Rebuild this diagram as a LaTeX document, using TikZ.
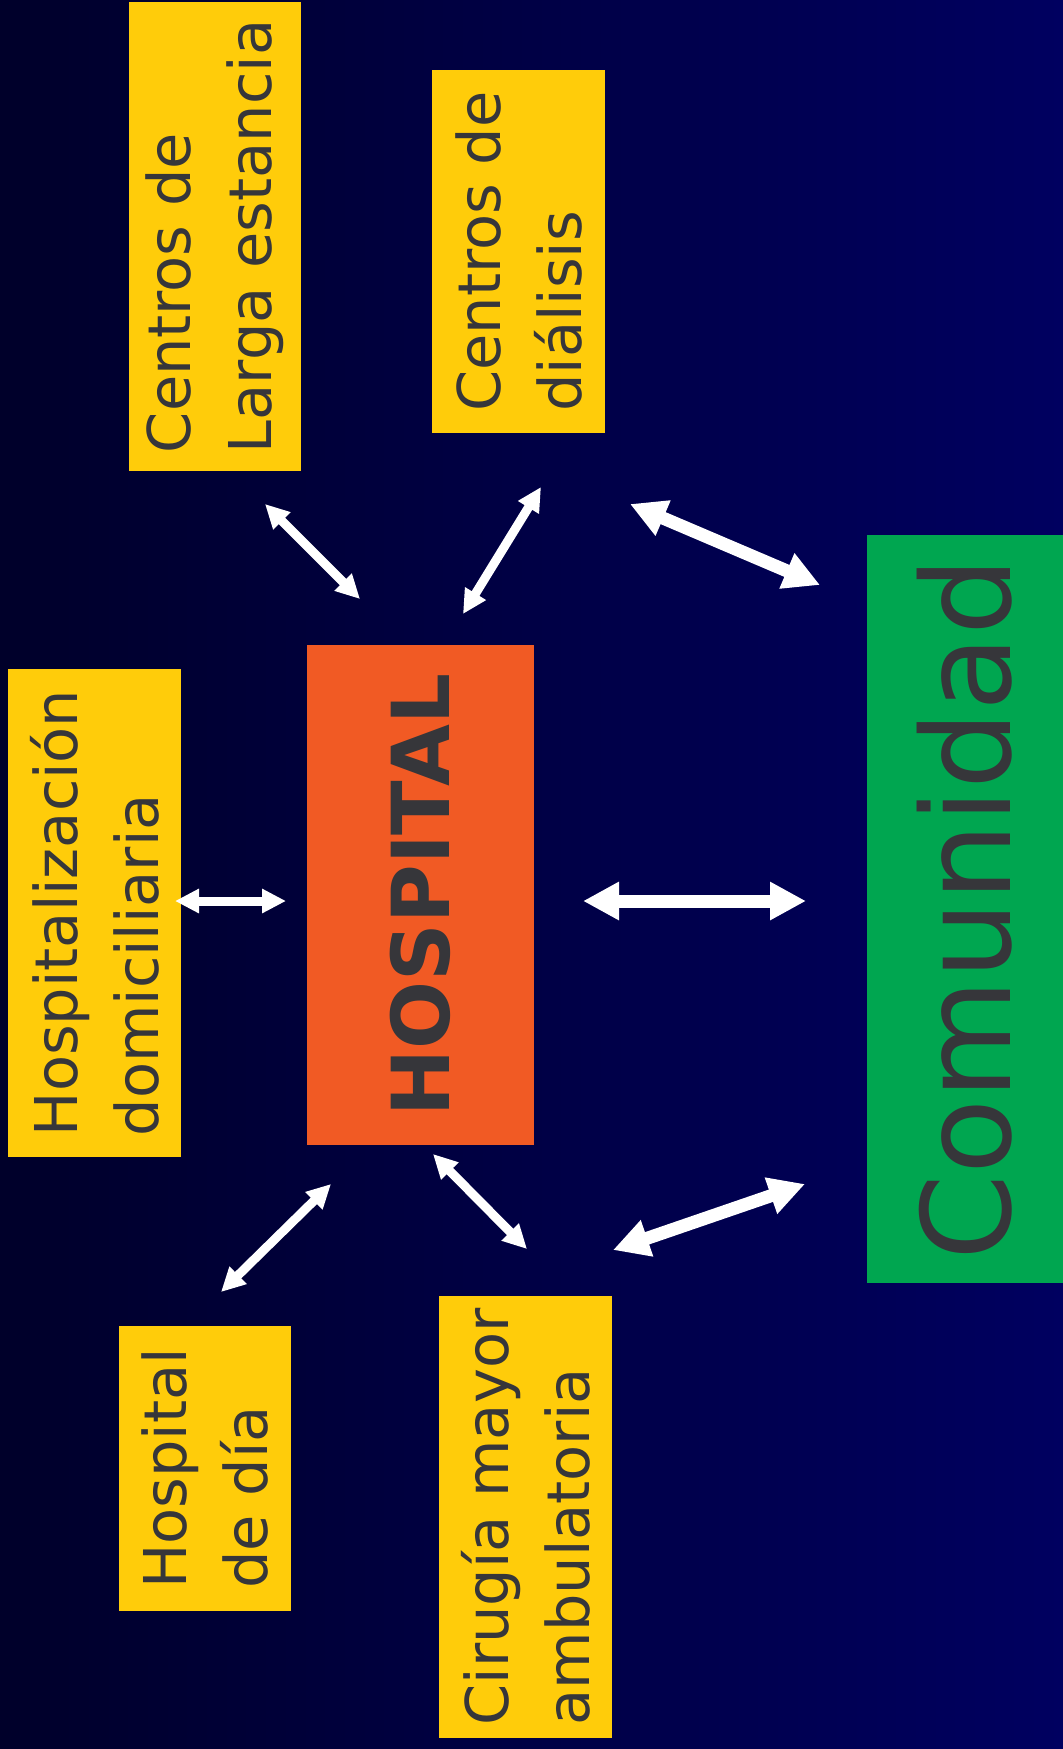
\documentclass[tikz,border=0pt]{standalone}
\usepackage{fontspec}
\setmainfont{DejaVu Sans}
\usetikzlibrary{arrows.meta}
\definecolor{bgleft}{RGB}{0,0,42}
\definecolor{bgright}{RGB}{0,0,96}
\definecolor{boxyellow}{RGB}{255,204,10}
\definecolor{boxorange}{RGB}{241,90,36}
\definecolor{boxgreen}{RGB}{0,166,80}
\definecolor{txtgray}{RGB}{54,54,58}
\begin{document}
\begin{tikzpicture}[x=1pt,y=-1pt,
  ybox/.style={fill=boxyellow, rotate=90, inner sep=0pt, align=left,
    text=txtgray, font=\fontsize{59}{81}\selectfont},
  smallarrow/.style={draw=white, line width=9pt,
    {Triangle[width=23pt,length=24pt]}-{Triangle[width=23pt,length=24pt]}},
  bigarrow/.style={draw=white, line width=13pt,
    {Triangle[width=36pt,length=36pt]}-{Triangle[width=36pt,length=36pt]}}]
\useasboundingbox (0,0) rectangle (1063,1749);
\shade[left color=bgleft, right color=bgright] (0,0) rectangle (1063,1749);

% boxes
\node[ybox, minimum width=469pt, minimum height=172pt] (larga) at (215,236.5)
  {Centros de\\Larga estancia};
\node[ybox, minimum width=363pt, minimum height=173pt] (dialisis) at (518.5,251.5)
  {Centros de\\diálisis};
\node[ybox, minimum width=488pt, minimum height=173pt] (domic) at (94.5,913)
  {Hospitalización\\domiciliaria};
\node[ybox, minimum width=285pt, minimum height=172pt] (hdia) at (205,1468.5)
  {Hospital\\de día};
\node[ybox, minimum width=442pt, minimum height=173pt] (cma) at (525.5,1517)
  {Cirugía mayor\\ambulatoria};
\node[fill=boxorange, rotate=90, inner sep=0pt, text=txtgray,
  minimum width=500pt, minimum height=227pt,
  font=\fontsize{80}{96}\selectfont\bfseries] (hosp) at (420.5,895) {HOSPITAL};
\node[fill=boxgreen, rotate=90, inner sep=0pt, text=txtgray,
  minimum width=748pt, minimum height=196pt,
  font=\fontsize{123}{140}\selectfont] (comun) at (965,909) {Comunidad};

% arrow end points
\coordinate (a1s) at (265,504);  \coordinate (a1e) at (360,599);
\coordinate (a2s) at (541,487);  \coordinate (a2e) at (463,614);
\coordinate (a3s) at (630,504);  \coordinate (a3e) at (820,585);
\coordinate (a4s) at (175,901);  \coordinate (a4e) at (286,901);
\coordinate (a5s) at (583,901);  \coordinate (a5e) at (806,901);
\coordinate (a6s) at (331,1184); \coordinate (a6e) at (221,1292);
\coordinate (a7s) at (433,1154); \coordinate (a7e) at (527,1249);
\coordinate (a8s) at (805,1184); \coordinate (a8e) at (613,1250);

\draw[smallarrow] (a1s) -- (a1e);
\draw[smallarrow] (a2s) -- (a2e);
\draw[bigarrow]   (a3s) -- (a3e);
\draw[smallarrow] (a4s) -- (a4e);
\draw[bigarrow]   (a5s) -- (a5e);
\draw[smallarrow] (a6s) -- (a6e);
\draw[smallarrow] (a7s) -- (a7e);
\draw[bigarrow]   (a8s) -- (a8e);
\end{tikzpicture}
\end{document}
